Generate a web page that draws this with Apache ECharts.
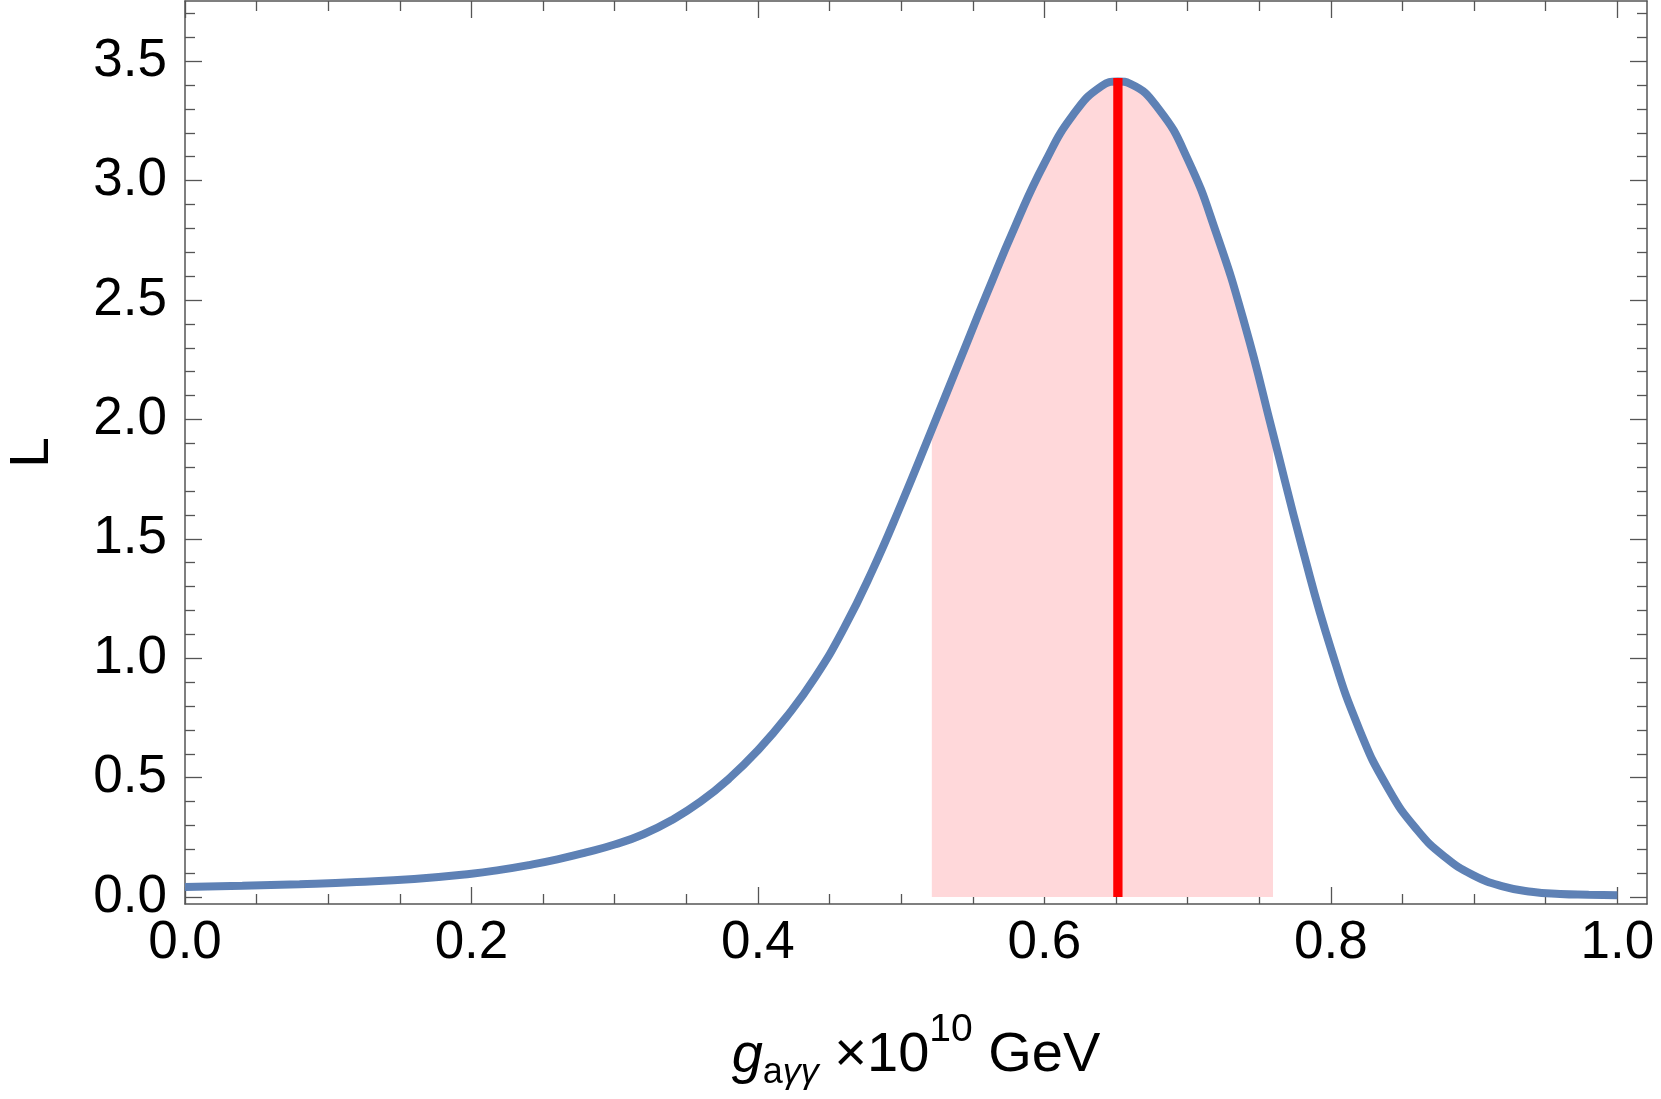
<!DOCTYPE html>
<html>
<head>
<meta charset="utf-8">
<script src="https://cdn.jsdelivr.net/npm/echarts@6/dist/echarts.min.js"></script>
<style>
html,body{margin:0;padding:0;background:#fff;}
#chart{width:1661px;height:1099px;}
</style>
</head>
<body>
<div id="chart"></div>
<script>
// ---- data ----
const gValues = [0.00, 0.04, 0.08, 0.12, 0.16, 0.20, 0.22, 0.24, 0.26, 0.28, 0.30, 0.32, 0.34, 0.36, 0.38, 0.40, 0.42, 0.44, 0.46, 0.48, 0.50, 0.5214, 0.54, 0.56, 0.58, 0.60, 0.62, 0.64, 0.6513, 0.66, 0.68, 0.70, 0.72, 0.74, 0.7596, 0.78, 0.80, 0.82, 0.84, 0.86, 0.88, 0.90, 0.92, 0.94, 0.96, 0.98, 1.00];
const LValues = [0.042, 0.047, 0.054, 0.063, 0.076, 0.098, 0.114, 0.134, 0.158, 0.187, 0.220, 0.263, 0.323, 0.400, 0.497, 0.615, 0.755, 0.921, 1.125, 1.369, 1.645, 1.958, 2.233, 2.529, 2.815, 3.072, 3.275, 3.396, 3.415, 3.405, 3.298, 3.090, 2.780, 2.395, 1.940, 1.462, 1.040, 0.700, 0.455, 0.283, 0.166, 0.090, 0.045, 0.022, 0.013, 0.010, 0.008];
const bandRange = [0.5214, 0.7596];
const bestFit = 0.6513;
const bestFitTop = 3.43;
const xMajorTicks = [0.0, 0.2, 0.4, 0.6, 0.8, 1.0];
const xMinorTicks = [0.05, 0.1, 0.15, 0.25, 0.3, 0.35, 0.45, 0.5, 0.55, 0.65, 0.7, 0.75, 0.85, 0.9, 0.95];
const yMajorTicks = [0.0, 0.5, 1.0, 1.5, 2.0, 2.5, 3.0, 3.5];
const yMinorTicks = [0.1, 0.2, 0.3, 0.4, 0.6, 0.7, 0.8, 0.9, 1.1, 1.2, 1.3, 1.4, 1.6, 1.7, 1.8, 1.9, 2.1, 2.2, 2.3, 2.4, 2.6, 2.7, 2.8, 2.9, 3.1, 3.2, 3.3, 3.4, 3.6, 3.7];
const xRange = [0, 1.0207];
const yRange = [-0.029, 3.752];

// ---- build ----
const FONT = "'Liberation Sans', Arial, sans-serif";
const frameColor = '#555';
const curve = gValues.map((g, i) => [g, LValues[i]]);
const band = curve.filter(p => p[0] >= bandRange[0] - 1e-9 && p[0] <= bandRange[1] + 1e-9);

function xAxisDef(pos, major, withLabels, withName) {
  const ax = {
    type: 'value', position: pos, min: xRange[0], max: xRange[1],
    splitLine: {show: false},
    axisLine: {show: major, onZero: false, lineStyle: {color: frameColor, width: 1.5}},
    axisTick: {show: true, inside: true, length: major ? 17 : 10, customValues: major ? xMajorTicks : xMinorTicks,
               lineStyle: {color: frameColor, width: 1.3}},
    axisLabel: withLabels ? {show: true, customValues: xMajorTicks, margin: 13, color: '#000', fontSize: 53, fontFamily: FONT,
               formatter: v => v.toFixed(1)} : {show: false}
  };
  if (withName) {
    ax.name = '{g|g}{s|a}{si|γγ}{m| ×10}{p|10}{m| GeV}';
    ax.nameLocation = 'middle';
    ax.nameGap = 107;
    ax.nameTextStyle = {
      color: '#000', fontFamily: FONT, fontSize: 56, lineHeight: 90,
      rich: {
        g: {fontSize: 56, fontStyle: 'italic', lineHeight: 90, fontFamily: FONT, color: '#000'},
        m: {fontSize: 56, lineHeight: 90, fontFamily: FONT, color: '#000'},
        s: {fontSize: 36, lineHeight: 43, verticalAlign: 'bottom', padding: [0, 0, 10, 0], fontFamily: FONT, color: '#000'},
        si: {fontSize: 36, fontStyle: 'italic', lineHeight: 43, verticalAlign: 'bottom', padding: [0, 0, 10, 0], fontFamily: FONT, color: '#000'},
        p: {fontSize: 39, lineHeight: 31, verticalAlign: 'top', fontFamily: FONT, color: '#000'}
      }
    };
  }
  return ax;
}
function yAxisDef(pos, major, withLabels, withName) {
  const ax = {
    type: 'value', position: pos, min: yRange[0], max: yRange[1],
    splitLine: {show: false},
    axisLine: {show: major, onZero: false, lineStyle: {color: frameColor, width: 1.5}},
    axisTick: {show: true, inside: true, length: major ? 17 : 10, customValues: major ? yMajorTicks : yMinorTicks,
               lineStyle: {color: frameColor, width: 1.3}},
    axisLabel: withLabels ? {show: true, customValues: yMajorTicks, margin: 18, color: '#000', fontSize: 53, fontFamily: FONT,
               formatter: v => v.toFixed(1)} : {show: false}
  };
  if (withName) {
    ax.name = 'L';
    ax.nameLocation = 'middle';
    ax.nameRotate = 90;
    ax.nameGap = 125;
    ax.nameTextStyle = {color: '#000', fontFamily: FONT, fontSize: 55};
  }
  return ax;
}

const chart = echarts.init(document.getElementById('chart'), null, {renderer: 'canvas'});
chart.setOption({
  animation: false,
  backgroundColor: '#fff',
  grid: {left: 185, right: 14, top: 1, bottom: 195, containLabel: false, outerBoundsMode: 'none'},
  xAxis: [
    xAxisDef('bottom', true, true, true),
    xAxisDef('bottom', false, false, false),
    xAxisDef('top', true, false, false),
    xAxisDef('top', false, false, false)
  ],
  yAxis: [
    yAxisDef('left', true, true, true),
    yAxisDef('left', false, false, false),
    yAxisDef('right', true, false, false),
    yAxisDef('right', false, false, false)
  ],
  series: [
    {
      type: 'line', xAxisIndex: 0, yAxisIndex: 0, data: band, smooth: 0.5,
      showSymbol: false, lineStyle: {width: 0}, areaStyle: {color: '#FFD8DA', opacity: 1}, z: 1
    },
    {
      type: 'line', xAxisIndex: 0, yAxisIndex: 0, data: curve, smooth: 0.5,
      showSymbol: false, lineStyle: {color: '#5E81B5', width: 8, cap: 'butt'}, z: 2
    },
    {
      type: 'line', xAxisIndex: 0, yAxisIndex: 0, data: [[bestFit, 0], [bestFit, bestFitTop]],
      showSymbol: false, lineStyle: {color: '#FF0000', width: 9.3, cap: 'butt'}, z: 3
    }
  ]
});
</script>
</body>
</html>
